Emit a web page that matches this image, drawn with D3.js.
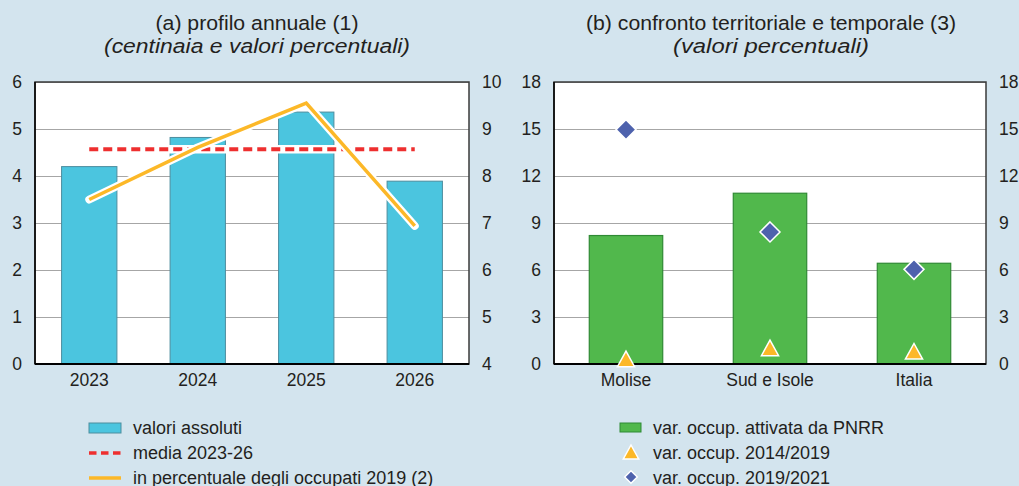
<!DOCTYPE html>
<html>
<head>
<meta charset="utf-8">
<script src="https://cdn.jsdelivr.net/npm/d3@7"></script>
<style>
  body { margin: 0; background: #d3e4ee; }
  svg { display: block; font-family: Arial, "Liberation Sans", sans-serif; }
  .axis .domain { display: none; }
  .axis text { fill: #231f20; font-size: 17.5px; font-family: Arial, "Liberation Sans", sans-serif; }
  .grid line { stroke: #a6a6a6; stroke-width: 1; }
  .grid .domain { display: none; }
  .title { fill: #231f20; font-size: 20.5px; text-anchor: middle; }
  .leg { fill: #231f20; font-size: 18px; }
</style>
</head>
<body>
<div id="chart"></div>
<script>
// (a) profilo annuale
const years = ["2023", "2024", "2025", "2026"],
    valoriAssoluti = [4.2, 4.82, 5.36, 3.89],
    media = 4.57,
    percOccupati = [7.5, 8.61, 9.55, 6.94],
    ticksA = [0, 1, 2, 3, 4, 5, 6],
    ticksA2 = [4, 5, 6, 7, 8, 9, 10]

// (b) confronto territoriale e temporale
const regions = ["Molise", "Sud e Isole", "Italia"],
    pnrr = [8.2, 10.9, 6.43],
    var1419 = [0.33, 1.03, 0.81],
    var1921 = [14.96, 8.43, 6.04],
    ticksB = [0, 3, 6, 9, 12, 15, 18]

const W = 1019, H = 486,
    yTop = 82, yBot = 364,
    cyan = "#4bc5df", green = "#51b84c", orange = "#fcb828",
    red = "#ee2f2f", blue = "#4e62ad"

const svg = d3.select("#chart").append("svg")
  .attr("width", W)
  .attr("height", H)

svg.append("rect").attr("width", W).attr("height", H).attr("fill", "#d3e4ee")

const diamond = (r) => `M0,${-r}L${r},0L0,${r}L${-r},0Z`
const triangle = (s) => `M0,${-s}L${s * 1.1},${s}L${-s * 1.1},${s}Z`

const panel = (x0, x1, cats, yTicks) => {
  const x = d3.scaleBand().domain(cats).range([x0, x1])
      .paddingInner(0.49).paddingOuter(0.245),
    y = d3.scaleLinear().domain([yTicks[0], yTicks[yTicks.length - 1]]).range([yBot, yTop])
  const g = svg.append("g")
  g.append("rect")
    .attr("x", x0).attr("y", yTop)
    .attr("width", x1 - x0).attr("height", yBot - yTop)
    .attr("fill", "#fff")
  g.append("g")
    .attr("class", "grid")
    .attr("transform", `translate(${x0},0)`)
    .call(d3.axisLeft(y).tickValues(yTicks).tickSize(-(x1 - x0)).tickFormat(""))
  return {x, y, g}
}

const frame = (g, x0, x1) => {
  g.append("rect")
    .attr("x", x0).attr("y", yTop)
    .attr("width", x1 - x0).attr("height", yBot - yTop)
    .attr("fill", "none").attr("stroke", "#3a3a3a").attr("stroke-width", 1.5)
  g.append("line")
    .attr("x1", x0).attr("x2", x1).attr("y1", yBot).attr("y2", yBot)
    .attr("stroke", "#000").attr("stroke-width", 2)
  g.append("line")
    .attr("x1", x0).attr("x2", x0).attr("y1", yTop).attr("y2", yBot)
    .attr("stroke", "#000").attr("stroke-width", 1.5)
}

const yLabels = (y, ticks, xPos, left) => {
  svg.append("g")
    .attr("class", "axis")
    .attr("transform", `translate(${xPos},0)`)
    .call((left ? d3.axisLeft(y) : d3.axisRight(y))
      .tickValues(ticks).tickFormat(d3.format("d")).tickSize(0).tickPadding(13))
}

const xLabels = (x) => {
  svg.append("g")
    .attr("class", "axis")
    .attr("transform", `translate(0,${yBot})`)
    .call(d3.axisBottom(x).tickSize(0).tickPadding(10))
}

// ---- panel (a)
const A = panel(35, 469, years, ticksA),
    yA2 = d3.scaleLinear().domain([4, 10]).range([yBot, yTop])

A.g.selectAll(".bar")
  .data(valoriAssoluti)
  .join("rect")
  .attr("class", "bar")
  .attr("x", (d, i) => A.x(years[i]))
  .attr("width", A.x.bandwidth())
  .attr("y", d => A.y(d))
  .attr("height", d => yBot - A.y(d))
  .attr("fill", cyan)
  .attr("stroke", "#4d8d9e").attr("stroke-width", 1)

frame(A.g, 35, 469)

const xMid = (x, c) => x(c) + x.bandwidth() / 2

// mean line with white halo
A.g.append("line")
  .attr("x1", xMid(A.x, years[0])).attr("x2", xMid(A.x, years[3]))
  .attr("y1", A.y(media)).attr("y2", A.y(media))
  .attr("stroke", "#fff").attr("stroke-width", 8.5)
A.g.append("line")
  .attr("x1", xMid(A.x, years[0])).attr("x2", xMid(A.x, years[3]))
  .attr("y1", A.y(media)).attr("y2", A.y(media))
  .attr("stroke", red).attr("stroke-width", 4)
  .attr("stroke-dasharray", "9,5")

const pctLine = d3.line()
  .x((d, i) => xMid(A.x, years[i]))
  .y(d => yA2(d))

A.g.append("path")
  .datum(percOccupati)
  .attr("d", pctLine)
  .attr("fill", "none").attr("stroke", "#fff").attr("stroke-width", 8)
  .attr("stroke-linejoin", "round").attr("stroke-linecap", "round")
A.g.append("path")
  .datum(percOccupati)
  .attr("d", pctLine)
  .attr("fill", "none").attr("stroke", orange).attr("stroke-width", 3.5)
  .attr("stroke-linejoin", "miter")

yLabels(A.y, ticksA, 35, true)
yLabels(yA2, ticksA2, 469, false)
xLabels(A.x)

// ---- panel (b)
const B = panel(554, 986, regions, ticksB)

B.g.selectAll(".bar")
  .data(pnrr)
  .join("rect")
  .attr("class", "bar")
  .attr("x", (d, i) => B.x(regions[i]))
  .attr("width", B.x.bandwidth())
  .attr("y", d => B.y(d))
  .attr("height", d => yBot - B.y(d))
  .attr("fill", green)
  .attr("stroke", "#2f8a34").attr("stroke-width", 1.2)

frame(B.g, 554, 986)

B.g.selectAll(".tri")
  .data(var1419)
  .join("path")
  .attr("class", "tri")
  .attr("d", triangle(7.8))
  .attr("transform", (d, i) => `translate(${xMid(B.x, regions[i])},${B.y(d)})`)
  .attr("fill", orange).attr("stroke", "#fff").attr("stroke-width", 1.5)

B.g.selectAll(".dia")
  .data(var1921)
  .join("path")
  .attr("class", "dia")
  .attr("d", diamond(10))
  .attr("transform", (d, i) => `translate(${xMid(B.x, regions[i])},${B.y(d)})`)
  .attr("fill", blue).attr("stroke", "#fff").attr("stroke-width", 1.5)

yLabels(B.y, ticksB, 554, true)
yLabels(B.y, ticksB, 986, false)
xLabels(B.x)

// ---- titles (source font runs wider than Arial, so stretch to the measured widths)
const title = (cx, l1, w1, l2, w2) => {
  svg.append("text").attr("class", "title").attr("x", cx).attr("y", 30)
    .attr("textLength", w1).attr("lengthAdjust", "spacingAndGlyphs").text(l1)
  svg.append("text").attr("class", "title").attr("x", cx).attr("y", 53)
    .attr("textLength", w2).attr("lengthAdjust", "spacingAndGlyphs")
    .style("font-style", "italic").text(l2)
}
title(257, "(a) profilo annuale (1)", 203, "(centinaia e valori percentuali)", 306)
title(771, "(b) confronto territoriale e temporale (3)", 370, "(valori percentuali)", 196)

// ---- legends
const legY = [428, 453, 478]
const legA = svg.append("g")
legA.append("rect").attr("x", 89).attr("y", legY[0] - 5).attr("width", 32).attr("height", 10)
  .attr("fill", cyan).attr("stroke", "#4d8d9e")
legA.append("line").attr("x1", 89).attr("x2", 121).attr("y1", legY[1]).attr("y2", legY[1])
  .attr("stroke", red).attr("stroke-width", 3.5).attr("stroke-dasharray", "7.5,4.5")
legA.append("line").attr("x1", 89).attr("x2", 121).attr("y1", legY[2]).attr("y2", legY[2])
  .attr("stroke", orange).attr("stroke-width", 3.5)
legA.selectAll("text")
  .data(["valori assoluti", "media 2023-26", "in percentuale degli occupati 2019 (2)"])
  .join("text")
  .attr("class", "leg")
  .attr("x", 133).attr("y", (d, i) => legY[i]).attr("dy", "0.35em")
  .text(d => d)

const legB = svg.append("g")
legB.append("rect").attr("x", 620).attr("y", legY[0] - 5).attr("width", 21).attr("height", 9)
  .attr("fill", green).attr("stroke", "#2f8a34")
legB.append("path").attr("d", triangle(7))
  .attr("transform", `translate(631,${legY[1] - 1})`)
  .attr("fill", orange).attr("stroke", "#fff").attr("stroke-width", 1.5)
legB.append("path").attr("d", diamond(6.3))
  .attr("transform", `translate(631,${legY[2] - 1})`)
  .attr("fill", blue).attr("stroke", "#fff").attr("stroke-width", 1.5)
legB.selectAll("text")
  .data(["var. occup. attivata da PNRR", "var. occup. 2014/2019", "var. occup. 2019/2021"])
  .join("text")
  .attr("class", "leg")
  .attr("x", 653).attr("y", (d, i) => legY[i]).attr("dy", "0.35em")
  .text(d => d)
</script>
</body>
</html>
